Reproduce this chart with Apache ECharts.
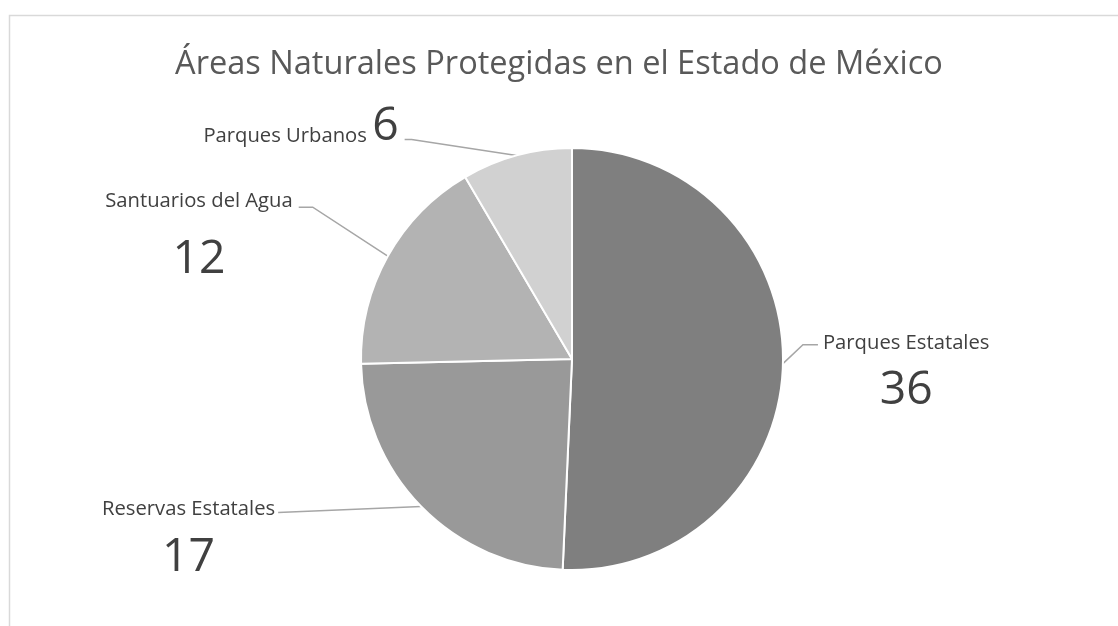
<!DOCTYPE html>
<html><head><meta charset="utf-8">
<script src="https://cdn.jsdelivr.net/npm/echarts@6/dist/echarts.min.js"></script>
<style>html,body{margin:0;padding:0;background:#fff}#c{width:1118px;height:626px}</style>
</head><body><div id="c"></div>
<script>
const chartTitle = 'Áreas Naturales Protegidas en el Estado de México';
const categories = ['Parques Estatales', 'Reservas Estatales', 'Santuarios del Agua', 'Parques Urbanos'];
const values = [36, 17, 12, 6];
const colors = ['#7f7f7f', '#999999', '#b3b3b3', '#d1d1d1'];

// label placement relative to each slice's edge point (styling only)
const labelGeom = [
  { elbow: [20, -19], h: 15, gap: 5, dy: -1.5, gapV: 48, side: 'left', inline: false },
  { elbow: [-143, 6], h: 0, gap: 3, dy: -3.5, gapV: 49, side: 'right', inline: false },
  { elbow: [-75, -49], h: -14, gap: 6, dy: -6, gapV: 59, side: 'right', inline: false },
  { elbow: [-105, -16], h: -7, gap: 6, dy: -13, side: 'right', inline: true }
];
const nameTargets = [167, 172, 188, 160];
const FONT = 'Open Sans';
const TXT = '#404040';

const ctx = document.createElement('canvas').getContext('2d');
function fit(text, target) {
  ctx.font = '100px "' + FONT + '"';
  return 100 * target / ctx.measureText(text).width;
}
const titleSize = fit(chartTitle, 768);
let ns = 0;
categories.forEach(function (c, i) { ns += fit(c, nameTargets[i] + 1); });
const nameSize = ns / categories.length;
const valueSize = fit('36', 53);

const rich = {
  n: { fontFamily: FONT, fontSize: nameSize, lineHeight: 24, color: TXT },
  nu: { fontFamily: FONT, fontSize: nameSize, color: TXT, padding: [20, 0, 0, 0] },
  u: { fontFamily: FONT, fontSize: valueSize, color: TXT }
};
labelGeom.forEach(function (g, i) {
  if (!g.inline) {
    rich['v' + i] = { fontFamily: FONT, fontSize: valueSize, lineHeight: 2 * (g.gapV - 12), color: TXT, align: 'center' };
  }
});

const chart = echarts.init(document.getElementById('c'), null, { renderer: 'canvas' });
chart.setOption({
  backgroundColor: '#ffffff',
  animation: false,
  graphic: [{
    type: 'rect', silent: true,
    shape: { x: 9.5, y: 15.5, width: 1125, height: 700 },
    style: { fill: 'none', stroke: '#d9d9d9', lineWidth: 1.5 }
  }],
  title: {
    text: chartTitle,
    left: 'center',
    top: 77 - 0.888 * titleSize,
    padding: [0, 0, 0, 21],
    textStyle: { fontFamily: FONT, fontSize: titleSize, fontWeight: 'normal', color: '#595959' }
  },
  series: [{
    type: 'pie',
    center: [572, 359],
    radius: 211,
    startAngle: 90,
    clockwise: true,
    avoidLabelOverlap: false,
    itemStyle: { borderColor: '#ffffff', borderWidth: 2 },
    label: {
      show: true,
      position: 'outside',
      fontFamily: FONT,
      color: TXT,
      formatter: function (p) {
        const i = p.dataIndex;
        return labelGeom[i].inline
          ? '{nu|' + p.name + ' }{u|' + p.value + '}'
          : '{n|' + p.name + '}\n{v' + i + '|' + p.value + '}';
      },
      rich: rich
    },
    labelLine: { show: true, length: 10, length2: 10, lineStyle: { color: '#a6a6a6', width: 1.5 } },
    labelLayout: function (p) {
      const g = labelGeom[p.dataIndex];
      const e = p.labelLinePoints[0];
      const b = [e[0] + g.elbow[0], e[1] + g.elbow[1]];
      const c = [b[0] + g.h, b[1]];
      const dir = g.side === 'left' ? 1 : -1;
      return {
        x: c[0] + dir * g.gap,
        y: c[1] + g.dy - (g.inline ? 0 : 12),
        align: g.side,
        verticalAlign: g.inline ? 'middle' : 'top',
        labelLinePoints: [e, b, c]
      };
    },
    data: categories.map(function (name, i) {
      return { name: name, value: values[i], itemStyle: { color: colors[i] } };
    })
  }]
});
</script>
</body></html>
